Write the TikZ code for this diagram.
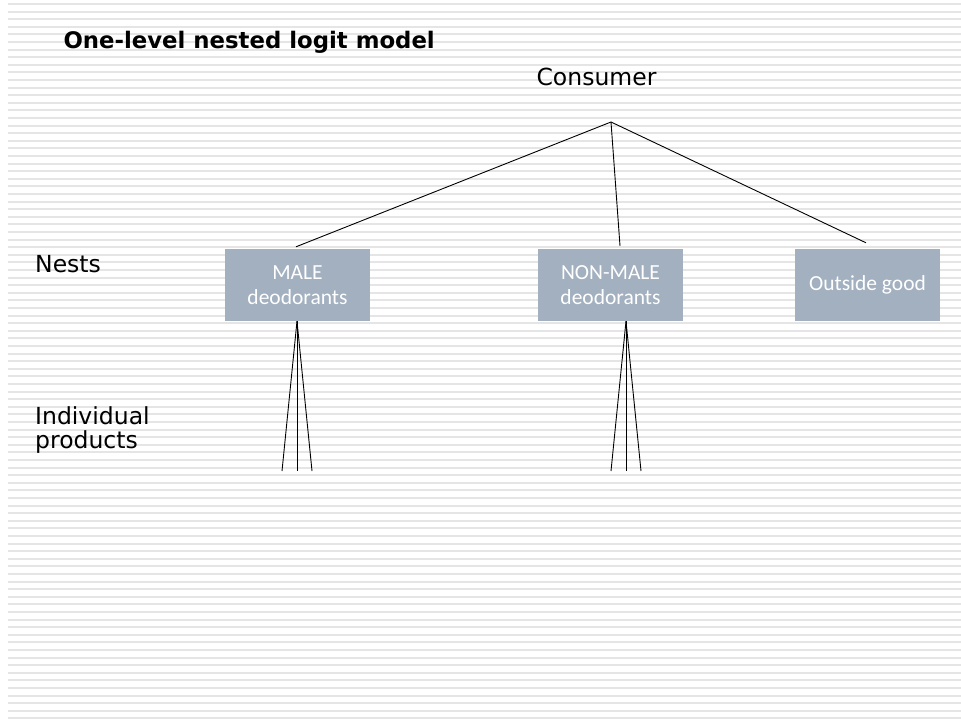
\documentclass[tikz,border=0pt]{standalone}
\usepackage{fontspec}
\setmainfont{DejaVu Sans}
\newfontfamily\boxfont{Carlito}
\usetikzlibrary{positioning}
\definecolor{stripegray}{HTML}{E5E5E5}
\definecolor{nestfill}{HTML}{A2B0C0}

\begin{document}
\begin{tikzpicture}[
            x=1pt, y=-1pt,
            stripe/.style={stripegray, line width=2pt},
            nest/.style={rectangle, fill=nestfill, text=white, minimum width=145pt,
                         minimum height=72pt, align=center,
                         font=\boxfont\fontsize{21.5}{24.5}\selectfont},
            lbl/.style={font=\fontsize{23.5}{24}\selectfont, align=left},
            branch/.style={black, line width=0.9pt}]
            \useasboundingbox[fill=white] (0,0) rectangle (961,719);
            % background stripes
            \foreach \y in {4,11.6,...,719}
              \draw[stripe] (8,\y) -- (961,\y);

            \node[anchor=base west, font=\bfseries\fontsize{22.8}{24}\selectfont]
                 (title) at (60,49) {One-level nested logit model};
            \node[lbl, anchor=base] (consumer) at (596.5,86) {Consumer};
            \node[lbl, anchor=base west, inner sep=0pt] (nests) at (35,273) {Nests};
            \node[lbl, anchor=base west, inner sep=0pt] (indiv) at (35,448)
                 {Individual\\products};

            \node[nest] (male) at (297.5,285) {MALE\\deodorants};
            \node[nest] (nonmale) at (610.5,285) {NON-MALE\\deodorants};
            \node[nest] (outside) at (867.5,285) {Outside good};

            \coordinate (apex) at (611,122);
            \coordinate (m1) at (282,471);
            \coordinate (m2) at (297,471);
            \coordinate (m3) at (312,471);
            \coordinate (n1) at (611,471);
            \coordinate (n2) at (626,471);
            \coordinate (n3) at (641,471);

            \path[branch] (apex) edge ([xshift=-1.5pt, yshift=2pt]male.north)
            (apex) edge ([xshift=9.5pt, yshift=3pt]nonmale.north)
            (apex) edge ([xshift=-1.5pt, yshift=6pt]outside.north);
            \path[branch] ([xshift=-0.5pt]male.south) edge (m1)
            ([xshift=-0.5pt]male.south) edge (m2)
            ([xshift=-0.5pt]male.south) edge (m3)
            ([xshift=15.5pt]nonmale.south) edge (n1)
            ([xshift=15.5pt]nonmale.south) edge (n2)
            ([xshift=15.5pt]nonmale.south) edge (n3);
            \end{tikzpicture}
\end{document}
